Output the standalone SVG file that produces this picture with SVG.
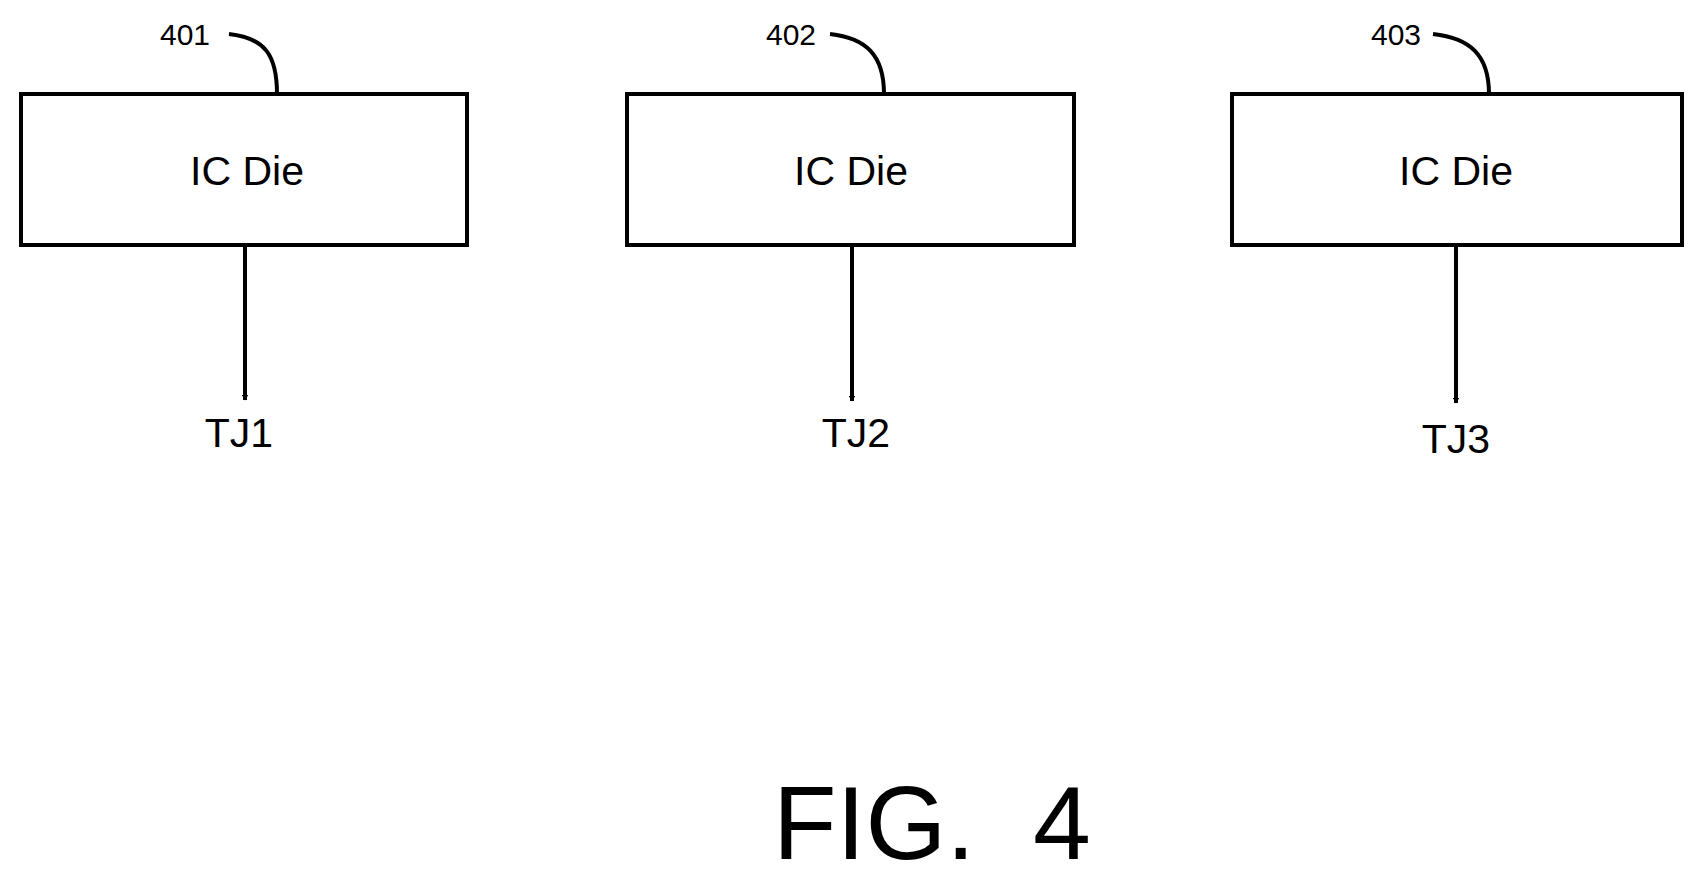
<svg xmlns="http://www.w3.org/2000/svg" width="1693" height="878" viewBox="0 0 1693 878">
<style>
.box{fill:#fff;stroke:#000;stroke-width:4}
.ln{fill:none;stroke:#000;stroke-width:4}
text{font-family:"Liberation Sans",Arial,sans-serif;fill:#000}
.lbl{font-size:41px;text-anchor:middle}
.ref{font-size:30px}
</style>
<defs><marker id="ah" markerWidth="6" markerHeight="7" refX="5.5" refY="3.5" orient="auto" markerUnits="userSpaceOnUse" viewBox="0 0 6 7"><path d="M0,0 L6,3.5 L0,7 Z"/></marker></defs>
<rect width="1693" height="878" fill="#fff"/>
<g id="connectors">
<path class="ln" d="M245,245 V400" marker-end="url(#ah)"/>
<path class="ln" d="M852,245 V401" marker-end="url(#ah)"/>
<path class="ln" d="M1456,245 V403" marker-end="url(#ah)"/>
<path class="ln" d="M229,34 C265,38 277,55 277,94"/>
<path class="ln" d="M830,34 C866,38 884,55 884,94"/>
<path class="ln" d="M1433,34 C1470,38 1489,55 1489,94"/>
</g>
<defs><marker id="m" markerWidth="0" markerHeight="0"/></defs>
<g id="node401"><rect class="box" x="21" y="94" width="446" height="151"/><text class="lbl" x="247" y="185">IC Die</text><text class="ref" x="160" y="45">401</text></g>
<g id="node402"><rect class="box" x="627" y="94" width="447" height="151"/><text class="lbl" x="851" y="185">IC Die</text><text class="ref" x="766" y="45">402</text></g>
<g id="node403"><rect class="box" x="1232" y="94" width="450" height="151"/><text class="lbl" x="1456" y="185">IC Die</text><text class="ref" x="1371" y="45">403</text></g>
<g id="tj"><text class="lbl" x="239" y="447">TJ1</text><text class="lbl" x="856" y="447">TJ2</text><text class="lbl" x="1456" y="453">TJ3</text></g>
<text x="773" y="859" font-size="104" style="white-space:pre">FIG.  4</text>
</svg>
